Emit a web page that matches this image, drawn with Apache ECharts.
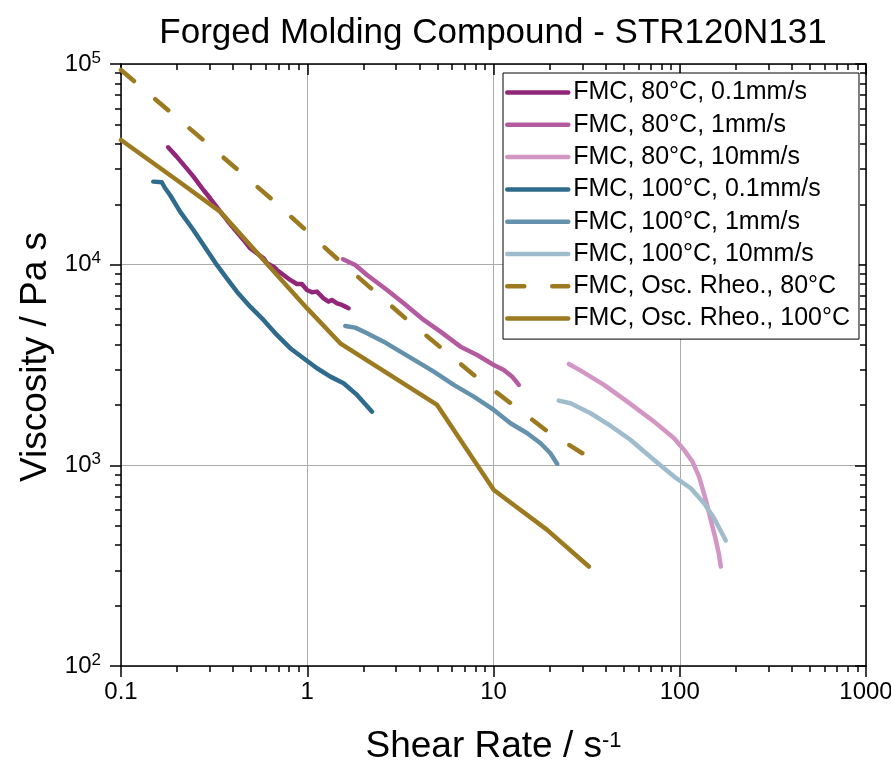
<!DOCTYPE html>
<html>
<head>
<meta charset="utf-8">
<script src="https://cdn.jsdelivr.net/npm/echarts@6/dist/echarts.min.js"></script>
<style>
html, body { margin: 0; padding: 0; background: #fff; }
#main { width: 891px; height: 770px; }
</style>
</head>
<body>
<div id="main"></div>
<script>
// ---------------- data ----------------
var seriesNames = [
  'FMC, 80°C, 0.1mm/s', 'FMC, 80°C, 1mm/s', 'FMC, 80°C, 10mm/s',
  'FMC, 100°C, 0.1mm/s', 'FMC, 100°C, 1mm/s', 'FMC, 100°C, 10mm/s',
  'FMC, Osc. Rheo., 80°C', 'FMC, Osc. Rheo., 100°C'
];
var colors = ['#92277a', '#b45a9f', '#d395c3', '#2e6b8c', '#6492ad', '#9ebccc', '#9b7a20', '#9b7a20'];

// shear rate (1/s) and viscosity (Pa s)
var rate80_01 = [0.179, 0.199, 0.221, 0.245, 0.277, 0.301, 0.341, 0.370, 0.410, 0.455, 0.494, 0.536, 0.583, 0.607, 0.659, 0.687, 0.746, 0.810, 0.880, 0.936, 0.996, 1.060, 1.127, 1.224, 1.302, 1.357, 1.445, 1.536, 1.601, 1.667];
var visc80_01 = [38460, 34540, 30790, 27460, 23560, 21420, 18380, 16700, 14890, 13280, 12070, 11400, 10760, 10160, 9776, 9410, 8888, 8392, 8014, 8014, 7480, 7284, 7340, 6798, 6545, 6672, 6420, 6297, 6178, 6070];

var rate80_1 = [1.556, 1.811, 2.094, 2.682, 3.295, 4.22, 5.19, 6.65, 8.17, 10.04, 11.36, 12.6, 13.68];
var visc80_1 = [10640, 9966, 8888, 7480, 6424, 5302, 4637, 3903, 3548, 3164, 2988, 2767, 2516];

var rate80_10 = [25.4, 29.4, 39.2, 52.3, 72.8, 93.2, 105.4, 117.0, 127.0, 138.0, 146.8, 156.2, 162.6, 166.1];
var visc80_10 = [3200, 2964, 2516, 2077, 1651, 1365, 1194, 1043, 879, 673, 534, 425, 358, 313];

var rate100_01 = [0.149, 0.1655, 0.1725, 0.1834, 0.2076, 0.2447, 0.2889, 0.327, 0.370, 0.419, 0.494, 0.582, 0.687, 0.810, 0.955, 1.128, 1.330, 1.567, 1.850, 2.228];
var visc100_01 = [25930, 25750, 24030, 22250, 18370, 14890, 11830, 9966, 8553, 7335, 6174, 5302, 4465, 3834, 3417, 3047, 2767, 2566, 2244, 1851];

var rate100_1 = [1.6, 1.811, 2.094, 2.572, 3.162, 3.89, 4.78, 6.12, 7.84, 10.04, 12.34, 15.18, 17.9, 20.2, 22.0];
var visc100_1 = [4951, 4855, 4551, 4133, 3685, 3286, 2930, 2516, 2200, 1888, 1621, 1445, 1288, 1149, 1016];

var rate100_10 = [22.4, 25.9, 33.2, 42.6, 54.5, 72.8, 93.2, 114.6, 135.1, 152.9, 176.6];
var visc100_10 = [2101, 2039, 1818, 1571, 1338, 1064, 879, 769, 648, 545, 422];

var rateOsc80 = [0.1, 0.283, 0.6456, 1.473, 3.365, 7.84, 19.04, 29.98];
var viscOsc80 = [93340, 41010, 21170, 10550, 5406, 2821, 1501, 1149];

var rateOsc100 = [0.1, 0.1993, 0.3406, 0.5825, 0.996, 1.504, 4.98, 10.04, 19.4, 32.5];
var viscOsc100 = [41830, 26430, 18380, 10550, 6070, 4057, 2000, 754, 477, 313];

// axis ticks
var xTicks = [0.1, 1, 10, 100, 1000];
var xTickLabels = ['0.1', '1', '10', '100', '1000'];
var yTicks = [100, 1000, 10000, 100000];
var yTickExp = ['2', '3', '4', '5'];

// ---------------- chart ----------------
var FONT = '"Liberation Sans", Arial, sans-serif';

function pairs(xs, ys) {
  return xs.map(function (x, i) { return [x, ys[i]]; });
}
function log10List(list) {
  return list.map(function (v) { return Math.log10(v); });
}
// minor positions between the decades, in log10 units for the tick-only axes
function minorLog(ticks) {
  var out = [];
  for (var i = 0; i < ticks.length - 1; i++) {
    for (var k = 2; k <= 9; k++) out.push(Math.log10(ticks[i] * k));
  }
  return out;
}

var allData = [
  pairs(rate80_01, visc80_01), pairs(rate80_1, visc80_1), pairs(rate80_10, visc80_10),
  pairs(rate100_01, visc100_01), pairs(rate100_1, visc100_1), pairs(rate100_10, visc100_10),
  pairs(rateOsc80, viscOsc80), pairs(rateOsc100, viscOsc100)
];

var axisLineStyle = { color: '#000', width: 1.5 };

// tick-only helper axis (value axis in log10 units, same span as the log axis)
function tickAxis(position, min, max, values, len, inside, showLine) {
  return {
    type: 'value', position: position, min: min, max: max,
    axisLine: { show: showLine, onZero: false, lineStyle: axisLineStyle },
    axisTick: { show: true, inside: inside, length: len, customValues: values, lineStyle: { color: '#000', width: 1.5 } },
    axisLabel: { show: false },
    splitLine: { show: false }
  };
}

var xMin = Math.log10(xTicks[0]), xMax = Math.log10(xTicks[xTicks.length - 1]);
var yMin = Math.log10(yTicks[0]), yMax = Math.log10(yTicks[yTicks.length - 1]);

var option = {
  animation: false,
  backgroundColor: '#fff',
  title: {
    text: 'Forged Molding Compound - STR120N131',
    left: 493, top: 16, textAlign: 'center', padding: 0,
    textStyle: { fontSize: 35, fontWeight: 'normal', color: '#000', fontFamily: FONT }
  },
  grid: { left: 121, right: 25, top: 64, bottom: 104, containLabel: false, outerBoundsMode: 'none' },
  legend: {
    data: seriesNames,
    orient: 'vertical',
    left: 503, top: 73,
    itemWidth: 61, itemHeight: 14, itemGap: 7.3,
    padding: [7, 9, 8, 2],
    backgroundColor: '#fff', borderColor: '#000', borderWidth: 1, borderRadius: 0,
    itemStyle: { opacity: 0 },
    lineStyle: { width: 4.5, cap: 'round' },
    textStyle: { fontSize: 25, lineHeight: 24, color: '#000', fontFamily: FONT }
  },
  xAxis: [
    {
      type: 'log', position: 'bottom', min: xTicks[0], max: xTicks[xTicks.length - 1],
      name: '{a|Shear Rate / s}{s|-1}', nameLocation: 'middle', nameGap: 62,
      nameTextStyle: {
        rich: {
          a: { fontSize: 37, color: '#000', fontFamily: FONT },
          s: { fontSize: 22, color: '#000', fontFamily: FONT, padding: [0, 0, 12, 0] }
        }
      },
      axisLine: { show: true, onZero: false, lineStyle: axisLineStyle },
      axisTick: { show: true, inside: false, length: 11, lineStyle: { color: '#000', width: 1.5 } },
      axisLabel: {
        margin: 14, fontSize: 24, color: '#000', fontFamily: FONT,
        formatter: function (v) {
          var i = xTicks.indexOf(v);
          return i >= 0 ? xTickLabels[i] : '';
        }
      },
      splitLine: { show: true, lineStyle: { color: '#ababab', width: 1 } }
    },
    tickAxis('bottom', xMin, xMax, minorLog(xTicks), 6, false, false),
    tickAxis('top', xMin, xMax, log10List(xTicks), 11, true, true),
    tickAxis('top', xMin, xMax, minorLog(xTicks), 6, true, false)
  ],
  yAxis: [
    {
      type: 'log', position: 'left', min: yTicks[0], max: yTicks[yTicks.length - 1],
      name: 'Viscosity / Pa s', nameLocation: 'middle', nameGap: 62,
      nameTextStyle: { fontSize: 37, color: '#000', fontFamily: FONT, padding: [0, 0, 0, 16] },
      axisLine: { show: true, onZero: false, lineStyle: axisLineStyle },
      axisTick: { show: true, inside: false, length: 11, lineStyle: { color: '#000', width: 1.5 } },
      axisLabel: {
        margin: 20, color: '#000', fontFamily: FONT,
        formatter: function (v) {
          var i = yTicks.indexOf(v);
          return i >= 0 ? '{b|10}{s|' + yTickExp[i] + '}' : '';
        },
        rich: {
          b: { fontSize: 24, color: '#000', fontFamily: FONT },
          s: { fontSize: 17, color: '#000', fontFamily: FONT, padding: [0, 0, 12, 0] }
        }
      },
      splitLine: { show: true, lineStyle: { color: '#ababab', width: 1 } }
    },
    tickAxis('left', yMin, yMax, minorLog(yTicks), 6, false, false),
    tickAxis('right', yMin, yMax, log10List(yTicks), 11, true, true),
    tickAxis('right', yMin, yMax, minorLog(yTicks), 6, true, false)
  ],
  series: seriesNames.map(function (name, i) {
    return {
      name: name,
      type: 'line',
      xAxisIndex: 0, yAxisIndex: 0,
      data: allData[i],
      symbol: 'none', showSymbol: false,
      itemStyle: { color: colors[i] },
      lineStyle: {
        color: colors[i], width: 4.5,
        type: i === 6 ? [17, 28] : 'solid',
        cap: 'round', join: 'round'
      },
      z: 2 + i * 0.01
    };
  })
};

var myChart = echarts.init(document.getElementById('main'), null, { renderer: 'canvas' });
myChart.setOption(option);
window.onresize = function () { myChart.resize(); };
</script>
</body>
</html>
